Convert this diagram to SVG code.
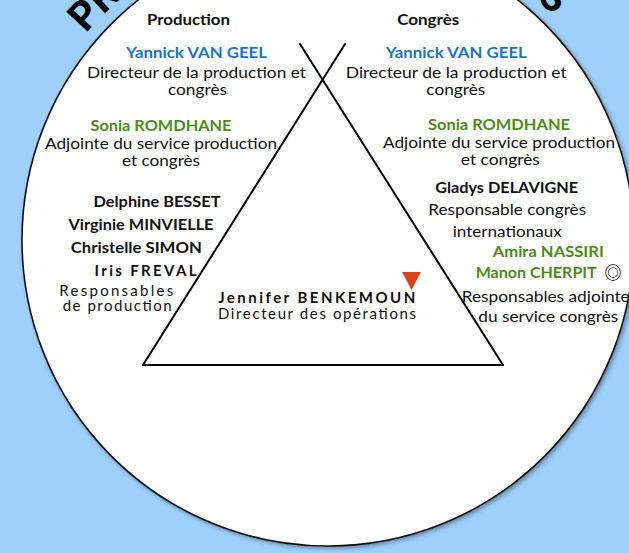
<svg xmlns="http://www.w3.org/2000/svg" width="629" height="553" viewBox="0 0 629 553">
<defs>
<filter id="sh" x="-10%" y="-10%" width="120%" height="120%">
<feDropShadow dx="2" dy="2" stdDeviation="2" flood-color="#000" flood-opacity="0.35"/>
</filter>
<path id="arc" d="M29.2,131.2 A318,318 0 0 1 626.8,131.2" fill="none"/>
<style>
text{font-family:Lato,"Liberation Sans",sans-serif;font-size:15px;fill:#111;}
.b{font-weight:bold;}
.c{text-anchor:middle;}
.blue{fill:#1b74c4;font-weight:bold;}
.green{fill:#4e8b1a;font-weight:bold;}
.title{font-size:40px;font-weight:900;fill:#000;}
.ln{stroke:#000;stroke-width:2;fill:none;stroke-linecap:round;}
</style>
</defs>
<rect width="629" height="553" fill="#9fd0fb"/>
<g id="circle">
<circle cx="328" cy="240" r="306" fill="#fff" stroke="#111" stroke-width="1.6" filter="url(#sh)"/>
</g>
<g id="title">
<text class="title"><textPath href="#arc" startOffset="113" textLength="526" lengthAdjust="spacing">PRODUCTION ET CONGRÈS</textPath></text>
</g>
<g id="connectors">
<line class="ln" x1="345" y1="44" x2="143" y2="365"/>
<line class="ln" x1="300" y1="44" x2="503" y2="365"/>
<line class="ln" x1="143" y1="365" x2="503" y2="365" stroke-width="2.4"/>
</g>
<g id="production">
<text class="b c" x="188.5" y="25" textLength="83" lengthAdjust="spacingAndGlyphs">Production</text>
<text class="blue c" x="196.5" y="58" textLength="141" lengthAdjust="spacingAndGlyphs">Yannick VAN GEEL</text>
<text class="c" x="196.5" y="78" textLength="219" lengthAdjust="spacingAndGlyphs">Directeur de la production et</text>
<text class="c" x="197.5" y="95" textLength="59" lengthAdjust="spacingAndGlyphs">congrès</text>
<text class="green c" x="161" y="131" textLength="141" lengthAdjust="spacingAndGlyphs">Sonia ROMDHANE</text>
<text class="c" x="161" y="149" textLength="232" lengthAdjust="spacingAndGlyphs">Adjointe du service production</text>
<text class="c" x="161" y="166" textLength="78" lengthAdjust="spacingAndGlyphs">et congrès</text>
<text class="b c" x="157" y="206.5" textLength="127" lengthAdjust="spacingAndGlyphs">Delphine BESSET</text>
<text class="b c" x="141" y="229.5" textLength="145" lengthAdjust="spacingAndGlyphs">Virginie MINVIELLE</text>
<text class="b c" x="136.3" y="252.5" textLength="131" lengthAdjust="spacingAndGlyphs">Christelle SIMON</text>
<text class="b c" x="145.5" y="276" textLength="102" lengthAdjust="spacing">Iris FREVAL</text>
<text class="c" x="116.3" y="295.5" textLength="114" lengthAdjust="spacing">Responsables</text>
<text class="c" x="117.2" y="310.5" textLength="109" lengthAdjust="spacing">de production</text>
</g>
<g id="operations">
<text class="b c" x="316.7" y="302.5" textLength="197" lengthAdjust="spacing">Jennifer BENKEMOUN</text>
<text class="c" x="317" y="319" textLength="198" lengthAdjust="spacing">Directeur des opérations</text>
<polygon points="402,272 421,272 411.5,290" fill="#d9441c"/>
</g>
<g id="congres">
<text class="b c" x="428.2" y="25" textLength="62" lengthAdjust="spacingAndGlyphs">Congrès</text>
<text class="blue c" x="456.3" y="58" textLength="141" lengthAdjust="spacingAndGlyphs">Yannick VAN GEEL</text>
<text class="c" x="456.3" y="78" textLength="221" lengthAdjust="spacingAndGlyphs">Directeur de la production et</text>
<text class="c" x="455.8" y="95" textLength="59" lengthAdjust="spacingAndGlyphs">congrès</text>
<text class="green c" x="499" y="129.5" textLength="142" lengthAdjust="spacingAndGlyphs">Sonia ROMDHANE</text>
<text class="c" x="499" y="148" textLength="232" lengthAdjust="spacingAndGlyphs">Adjointe du service production</text>
<text class="c" x="500.3" y="165" textLength="79" lengthAdjust="spacingAndGlyphs">et congrès</text>
<text class="b c" x="506.7" y="192.5" textLength="143" lengthAdjust="spacingAndGlyphs">Gladys DELAVIGNE</text>
<text class="c" x="507.2" y="215" textLength="158" lengthAdjust="spacingAndGlyphs">Responsable congrès</text>
<text class="c" x="507.2" y="237" textLength="109" lengthAdjust="spacingAndGlyphs">internationaux</text>
<text class="green c" x="548.3" y="256.5" textLength="111" lengthAdjust="spacingAndGlyphs">Amira NASSIRI</text>
<text class="green" x="475.7" y="278" textLength="121" lengthAdjust="spacingAndGlyphs">Manon CHERPIT</text>
<text x="604.5" y="278.5" style="font-family:'Noto Sans CJK JP','DejaVu Sans',sans-serif;font-size:17px;font-weight:bold;fill:#000">◎</text>
<text x="461.7" y="301.5" textLength="168" lengthAdjust="spacingAndGlyphs">Responsables adjointe</text>
<text class="c" x="548.3" y="322" textLength="140" lengthAdjust="spacingAndGlyphs">du service congrès</text>
</g>
</svg>
